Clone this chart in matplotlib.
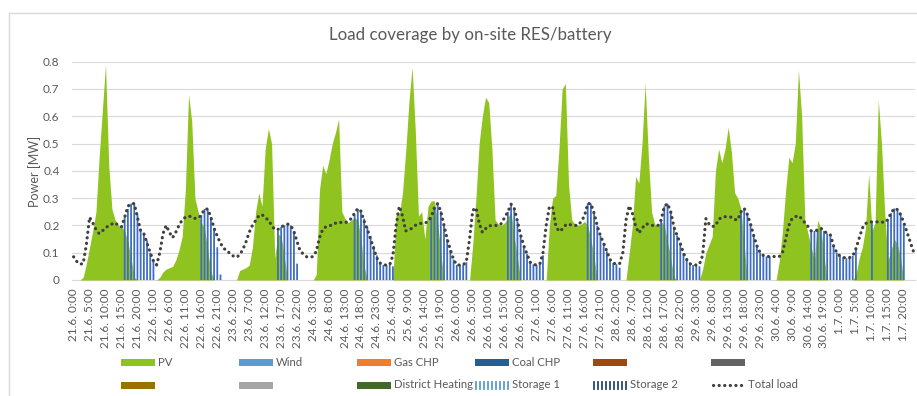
import matplotlib
matplotlib.use("Agg")
import matplotlib.pyplot as plt
from matplotlib.lines import Line2D
from matplotlib.patches import Rectangle
import numpy as np

plt.rcParams['font.family'] = ['Lato', 'DejaVu Sans']

# ---- data (hourly, 21.6. 0:00 .. 1.7. 23:00) ----
days = ["21.6.", "22.6.", "23.6.", "24.6.", "25.6.", "26.6.",
        "27.6.", "28.6.", "29.6.", "30.6.", "1.7."]

pv = [
    # 21.6.
    0, 0, 0, 0.01, 0.06, 0.12, 0.18, 0.25, 0.45, 0.62, 0.79, 0.42,
    0.26, 0.22, 0.20, 0.195, 0.18, 0.14, 0.08, 0.01, 0, 0, 0, 0,
    # 22.6.
    0, 0, 0, 0.01, 0.03, 0.04, 0.045, 0.05, 0.073, 0.11, 0.16, 0.33,
    0.68, 0.58, 0.30, 0.25, 0.21, 0.19, 0.11, 0.03, 0, 0, 0, 0,
    # 23.6.
    0, 0, 0, 0, 0.035, 0.04, 0.045, 0.055, 0.12, 0.25, 0.32, 0.27,
    0.48, 0.555, 0.50, 0.08, 0.17, 0.16, 0.085, 0, 0, 0, 0, 0,
    # 24.6.
    0, 0, 0, 0, 0.02, 0.33, 0.42, 0.39, 0.44, 0.50, 0.54, 0.59,
    0.25, 0.225, 0.21, 0.22, 0.228, 0.22, 0.15, 0.05, 0, 0, 0, 0,
    # 25.6.
    0, 0, 0, 0, 0, 0.25, 0.24, 0.32, 0.47, 0.65, 0.78, 0.55,
    0.235, 0.25, 0.15, 0.27, 0.29, 0.29, 0.21, 0.10, 0, 0, 0, 0,
    # 26.6.
    0, 0, 0, 0, 0, 0.13, 0.30, 0.50, 0.60, 0.67, 0.65, 0.48,
    0.22, 0.205, 0.20, 0.21, 0.23, 0.25, 0.16, 0.08, 0, 0, 0, 0,
    # 27.6.
    0, 0, 0, 0, 0, 0.20, 0.30, 0.31, 0.48, 0.70, 0.72, 0.35,
    0.22, 0.205, 0.20, 0.205, 0.215, 0.20, 0.15, 0.085, 0, 0, 0, 0,
    # 28.6.
    0, 0, 0, 0, 0, 0, 0.10, 0.20, 0.38, 0.355, 0.50, 0.72,
    0.45, 0.25, 0.205, 0.20, 0.215, 0.20, 0.14, 0.08, 0.01, 0, 0, 0,
    # 29.6.
    0, 0, 0, 0, 0, 0.04, 0.10, 0.13, 0.16, 0.40, 0.48, 0.43,
    0.48, 0.56, 0.47, 0.32, 0.30, 0.26, 0.13, 0, 0, 0, 0, 0,
    # 30.6.
    0, 0, 0, 0, 0, 0.07, 0.18, 0.33, 0.45, 0.43, 0.50, 0.77,
    0.60, 0.22, 0.17, 0.12, 0.07, 0.22, 0.19, 0.09, 0, 0, 0, 0,
    # 1.7.
    0, 0, 0, 0, 0, 0.02, 0.08, 0.12, 0.19, 0.39, 0.18, 0.21,
    0.66, 0.50, 0.25, 0.07, 0.11, 0.15, 0.13, 0.08, 0, 0, 0, 0,
]

load = [
    # 21.6.
    0.085, 0.068, 0.058, 0.06, 0.13, 0.23, 0.21, 0.185, 0.17, 0.18, 0.19, 0.20,
    0.205, 0.21, 0.20, 0.195, 0.23, 0.27, 0.28, 0.28, 0.23, 0.18, 0.17, 0.135,
    # 22.6.
    0.10, 0.07, 0.055, 0.10, 0.17, 0.20, 0.175, 0.155, 0.175, 0.20, 0.22, 0.23,
    0.234, 0.232, 0.226, 0.226, 0.238, 0.26, 0.26, 0.23, 0.19, 0.16, 0.135, 0.115,
    # 23.6.
    0.11, 0.095, 0.088, 0.083, 0.092, 0.112, 0.14, 0.175, 0.20, 0.218, 0.235, 0.24,
    0.228, 0.22, 0.20, 0.185, 0.185, 0.195, 0.20, 0.205, 0.20, 0.178, 0.14, 0.105,
    # 24.6.
    0.095, 0.085, 0.083, 0.086, 0.105, 0.155, 0.185, 0.195, 0.20, 0.20, 0.208, 0.213,
    0.21, 0.21, 0.214, 0.226, 0.245, 0.262, 0.252, 0.215, 0.185, 0.15, 0.115, 0.08,
    # 25.6.
    0.062, 0.055, 0.055, 0.056, 0.09, 0.20, 0.27, 0.235, 0.18, 0.183, 0.19, 0.20,
    0.206, 0.208, 0.208, 0.215, 0.232, 0.265, 0.28, 0.252, 0.20, 0.15, 0.11, 0.075,
    # 26.6.
    0.055, 0.055, 0.055, 0.068, 0.15, 0.255, 0.265, 0.21, 0.175, 0.188, 0.198, 0.20,
    0.20, 0.20, 0.207, 0.23, 0.25, 0.278, 0.262, 0.215, 0.165, 0.125, 0.095, 0.065,
    # 27.6.
    0.057, 0.055, 0.058, 0.10, 0.20, 0.268, 0.268, 0.20, 0.178, 0.186, 0.20, 0.206,
    0.20, 0.20, 0.20, 0.215, 0.235, 0.28, 0.28, 0.245, 0.198, 0.162, 0.135, 0.105,
    # 28.6.
    0.075, 0.062, 0.058, 0.06, 0.10, 0.22, 0.272, 0.245, 0.198, 0.172, 0.188, 0.205,
    0.205, 0.20, 0.20, 0.20, 0.22, 0.27, 0.28, 0.25, 0.195, 0.163, 0.134, 0.098,
    # 29.6.
    0.075, 0.06, 0.055, 0.055, 0.058, 0.09, 0.225, 0.205, 0.196, 0.198, 0.222, 0.23,
    0.232, 0.232, 0.23, 0.222, 0.22, 0.25, 0.263, 0.24, 0.205, 0.162, 0.125, 0.10,
    # 30.6.
    0.09, 0.086, 0.086, 0.086, 0.086, 0.086, 0.10, 0.15, 0.20, 0.225, 0.232, 0.236,
    0.225, 0.21, 0.196, 0.18, 0.18, 0.183, 0.19, 0.18, 0.17, 0.165, 0.125, 0.10,
    # 1.7.
    0.088, 0.083, 0.08, 0.082, 0.088, 0.115, 0.152, 0.19, 0.207, 0.212, 0.213, 0.213,
    0.213, 0.213, 0.21, 0.222, 0.245, 0.262, 0.258, 0.24, 0.21, 0.175, 0.14, 0.105,
]

storage1 = [
    # 21.6.
    0, 0, 0, 0, 0, 0, 0, 0, 0, 0, 0, 0,
    0, 0, 0, 0, 0.23, 0.26, 0.28, 0.28, 0.24, 0.18, 0.165, 0.145,
    # 22.6.
    0.10, 0.07, 0, 0, 0, 0, 0, 0, 0, 0, 0, 0,
    0, 0, 0, 0, 0.238, 0.26, 0.26, 0.23, 0.19, 0.12, 0.02, 0,
    # 23.6.
    0, 0, 0, 0, 0, 0, 0, 0, 0, 0, 0, 0,
    0, 0, 0, 0, 0.18, 0.195, 0.20, 0.205, 0.20, 0.178, 0.06, 0,
    # 24.6.
    0, 0, 0, 0, 0, 0, 0, 0, 0, 0, 0, 0,
    0, 0, 0, 0, 0.24, 0.26, 0.255, 0.225, 0.195, 0.16, 0.125, 0.09,
    # 25.6.
    0.062, 0.055, 0.055, 0.055, 0.05, 0, 0, 0, 0, 0, 0, 0,
    0, 0, 0, 0, 0.23, 0.265, 0.28, 0.252, 0.20, 0.15, 0.11, 0.075,
    # 26.6.
    0.055, 0.055, 0.055, 0.065, 0, 0, 0, 0, 0, 0, 0, 0,
    0, 0, 0, 0, 0.25, 0.278, 0.262, 0.215, 0.165, 0.125, 0.095, 0.065,
    # 27.6.
    0.057, 0.055, 0.058, 0.09, 0, 0, 0, 0, 0, 0, 0, 0,
    0, 0, 0, 0, 0, 0.28, 0.28, 0.245, 0.198, 0.162, 0.135, 0.105,
    # 28.6.
    0.075, 0.062, 0.058, 0.045, 0, 0, 0, 0, 0, 0, 0, 0,
    0, 0, 0, 0, 0.22, 0.27, 0.28, 0.25, 0.195, 0.163, 0.134, 0.098,
    # 29.6.
    0.075, 0.06, 0.055, 0.055, 0.05, 0, 0, 0, 0, 0, 0, 0,
    0, 0, 0, 0, 0, 0.25, 0.263, 0.24, 0.205, 0.162, 0.125, 0.10,
    # 30.6.
    0.09, 0.086, 0.086, 0, 0, 0, 0, 0, 0, 0, 0, 0,
    0, 0, 0, 0.18, 0.18, 0.183, 0.19, 0.18, 0.17, 0.16, 0.122, 0.10,
    # 1.7.
    0.088, 0.083, 0.08, 0.082, 0.088, 0.115, 0, 0, 0, 0, 0.21, 0,
    0, 0, 0, 0.222, 0.245, 0.262, 0.258, 0.24, 0.20, 0, 0, 0,
]

storage2 = [0.0] * len(load)

# category labels "d.m. h:00"
hours_of_day = list(range(24))
categories = [f"{d} {h}:00" for d in days for h in hours_of_day]
label_step = 5

# ---- styling ----
PV_GREEN = "#8fc31f"
BAR_BLUE = "#3d6cc4"
TEXT_GREY = "#595959"
GRID_GREY = "#d9d9d9"

W, H = 917, 396
fig = plt.figure(figsize=(W / 100, H / 100), dpi=100)


def fx(px):
    return px / W


def fy(py):
    return 1 - py / H


ax = fig.add_axes([fx(72), fy(280), fx(915) - fx(72), fy(61.7) - fy(280)])

x = np.arange(len(load))
ax.fill_between(x, 0, pv, color=PV_GREEN, linewidth=0, zorder=2)
ax.bar(x, storage1, width=0.56, color=BAR_BLUE, linewidth=0, zorder=3,
       snap=False)
ax.bar(x, storage2, width=0.56, bottom=storage1, color="#203864",
       linewidth=0, zorder=3, snap=False)
ax.plot(x, load, color="#404040", linewidth=2.3,
        linestyle=(0, (0.05, 1.7)), dash_capstyle="round", zorder=4)

ax.set_xlim(-0.5, len(load) - 0.5)
ax.set_ylim(0, 0.8)
ax.set_yticks(np.arange(0, 0.81, 0.1))
ax.set_yticklabels(["0"] + [f"{v:.1f}" for v in np.arange(0.1, 0.81, 0.1)])
ax.set_xticks(x[::label_step])
ax.set_xticklabels(categories[::label_step], rotation=90)
ax.tick_params(axis="both", length=0, colors=TEXT_GREY, labelsize=8.5)
ax.tick_params(axis="x", pad=6)
ax.tick_params(axis="y", pad=9)
ax.grid(axis="y", color=GRID_GREY, linewidth=0.8, zorder=0)
ax.set_axisbelow(True)
for side in ("top", "right", "left"):
    ax.spines[side].set_visible(False)
ax.spines["bottom"].set_color(GRID_GREY)
ax.spines["bottom"].set_zorder(1)

fig.text(fx(35), fy(171), "Power [MW]", rotation=90, ha="center",
         va="center", color=TEXT_GREY, fontsize=9)
fig.text(fx(470), fy(35), "Load coverage by on-site RES/battery",
         ha="center", va="center", color=TEXT_GREY, fontsize=12.2)

# chart frame
fig.add_artist(Line2D([fx(8.5), fx(8.5)], [fy(12.7), 0], color=GRID_GREY,
                      linewidth=1))
fig.add_artist(Line2D([fx(8.5), 1], [fy(12.7), fy(12.7)], color=GRID_GREY,
                      linewidth=1))

# ---- legend ----
legend_rows = [
    [("PV", "solid", PV_GREEN), ("Wind", "solid", "#5b9bd5"),
     ("Gas CHP", "solid", "#ed7d31"), ("Coal CHP", "solid", "#255e91"),
     ("", "solid", "#9e480e"), ("", "solid", "#636363")],
    [("", "solid", "#997300"), ("", "solid", "#a5a5a5"),
     ("District Heating", "solid", "#43682b"),
     ("Storage 1", "stripes", "#5b9bd5"), ("Storage 2", "stripes", "#264478"),
     ("Total load", "dots", "#404040")],
]
col_x = [121, 239, 357, 475, 593, 711]
row_y = [362, 385]
key_w, key_h = 34, 7

for ry, row in zip(row_y, legend_rows):
    for cx, (name, kind, color) in zip(col_x, row):
        if kind == "solid":
            fig.add_artist(Rectangle((fx(cx), fy(ry + key_h / 2)), fx(key_w),
                                     fy(ry - key_h / 2) - fy(ry + key_h / 2),
                                     facecolor=color, edgecolor="none",
                                     transform=fig.transFigure))
        elif kind == "stripes":
            for k in range(9):
                sx = cx + 1 + k * 4
                fig.add_artist(Line2D([fx(sx), fx(sx)],
                                      [fy(ry + key_h / 2), fy(ry - key_h / 2)],
                                      color=color, linewidth=1.3))
        else:
            fig.add_artist(Line2D([fx(cx + 2), fx(cx + key_w)], [fy(ry), fy(ry)],
                                  color=color, linewidth=2.3,
                                  linestyle=(0, (0.05, 1.7)),
                                  dash_capstyle="round"))
        if name:
            fig.text(fx(cx + key_w + 3), fy(ry), name, ha="left", va="center",
                     color=TEXT_GREY, fontsize=8.2)

fig.savefig("out.png", dpi=100)
